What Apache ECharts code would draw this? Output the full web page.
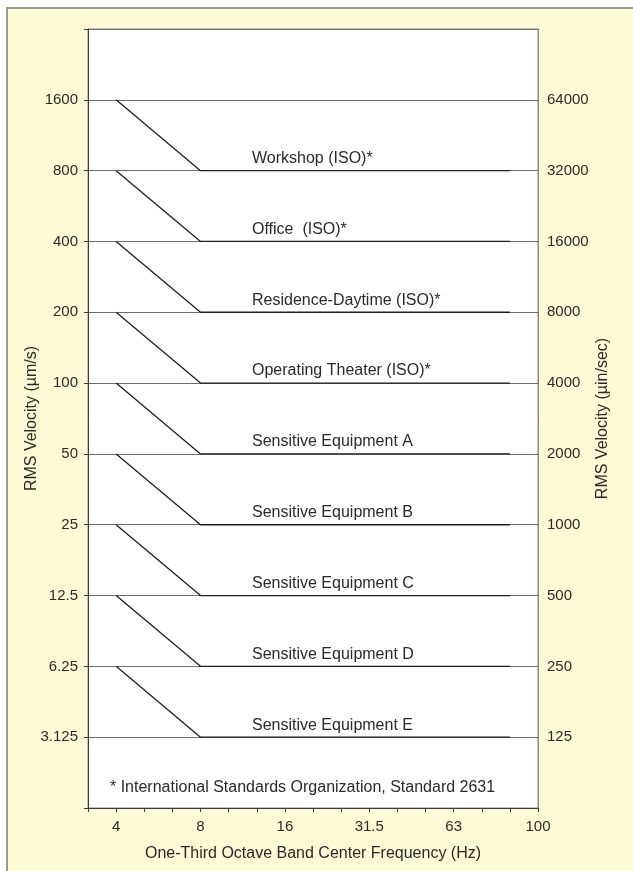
<!DOCTYPE html>
<html>
<head>
<meta charset="utf-8">
<script src="https://cdn.jsdelivr.net/npm/echarts@6/dist/echarts.min.js"></script>
<style>
  html, body { margin: 0; padding: 0; background: #ffffff; }
  #panel {
    position: absolute; left: 6px; top: 7px; width: 640px; height: 880px;
    background: #fffad6; border-left: 2px solid #9a9a94; border-top: 2px solid #9a9a94;
    box-sizing: border-box;
  }
  #chart { position: absolute; left: 0; top: 0; width: 633px; height: 871px; }
</style>
</head>
<body>
<div id="panel"></div>
<div id="chart"></div>
<script>
// One-third octave band positions along the x axis; only some are labelled.
const bandLabels = ['', '4', '', '', '8', '', '', '16', '', '', '31.5', '', '', '63', '', '', '100'];

// Vibration criterion curves: level at 4 Hz, then the flat level from 8 Hz upward (µm/s).
const criteriaNames = [
  'Workshop (ISO)*',
  'Office  (ISO)*',
  'Residence-Daytime (ISO)*',
  'Operating Theater (ISO)*',
  'Sensitive Equipment A',
  'Sensitive Equipment B',
  'Sensitive Equipment C',
  'Sensitive Equipment D',
  'Sensitive Equipment E'
];
const levelsAt4Hz = [1600, 800, 400, 200, 100, 50, 25, 12.5, 6.25];
const flatLevels  = [800, 400, 200, 100, 50, 25, 12.5, 6.25, 3.125];
// Band indices: curve start (4 Hz), knee (8 Hz) and end of the flat segment.
const curveBands = [1, 4, 15];

// Tick labels for the two velocity scales.
const leftTicks  = [3.125, 6.25, 12.5, 25, 50, 100, 200, 400, 800, 1600];
const leftTickMarks = [1.5625, 3.125, 6.25, 12.5, 25, 50, 100, 200, 400, 800, 1600, 3200];
const rightTicks = [125, 250, 500, 1000, 2000, 4000, 8000, 16000, 32000, 64000];

const footnote = '* International Standards Organization, Standard 2631';

const FONT = '"Liberation Sans", Arial, Helvetica, sans-serif';
const TEXT = '#2a2a2a';

function nearestLabel(list, v) {
  let best = list[0];
  for (const t of list) {
    if (Math.abs(Math.log(t) - Math.log(v)) < Math.abs(Math.log(best) - Math.log(v))) best = t;
  }
  return String(best);
}

const series = criteriaNames.map((name, i) => ({
  name: name,
  type: 'line',
  symbol: 'none',
  silent: true,
  z: 3,
  lineStyle: { color: '#1e1e1e', width: 1.3 },
  data: [
    [curveBands[0], levelsAt4Hz[i]],
    [curveBands[1], flatLevels[i]],
    [curveBands[2], flatLevels[i]]
  ],
  markPoint: {
    silent: true,
    symbol: 'circle',
    symbolSize: 1,
    itemStyle: { color: 'rgba(0,0,0,0)' },
    label: {
      show: true,
      position: 'right',
      distance: 0,
      offset: [51, -12],
      formatter: name,
      color: TEXT,
      fontFamily: FONT,
      fontSize: 16
    },
    data: [{ coord: [curveBands[1], flatLevels[i]] }]
  }
}));

const chart = echarts.init(document.getElementById('chart'), null, { renderer: 'canvas' });
chart.setOption({
  backgroundColor: 'transparent',
  animation: false,
  grid: {
    left: 88, top: 29, right: 95, bottom: 63,
    show: true, backgroundColor: '#ffffff', borderColor: '#8a8a8a', borderWidth: 1
  },
  xAxis: {
    type: 'value',
    min: 0, max: bandLabels.length - 1, interval: 1,
    name: 'One-Third Octave Band Center Frequency (Hz)',
    nameLocation: 'middle',
    nameGap: 38,
    nameMoveOverlap: false,
    nameTextStyle: { color: TEXT, fontFamily: FONT, fontSize: 16 },
    axisLine: { lineStyle: { color: '#3a3a3a', width: 1 } },
    axisTick: { show: true, length: 4, lineStyle: { color: '#3a3a3a' } },
    axisLabel: {
      color: TEXT, fontFamily: FONT, fontSize: 15, margin: 11,
      formatter: v => bandLabels[Math.round(v)] || ''
    },
    splitLine: { show: false }
  },
  yAxis: [
    {
      type: 'log', logBase: 2,
      min: 1.5625, max: 3200,
      position: 'left',
      name: 'RMS Velocity (\u00b5m/s)',
      nameLocation: 'middle',
      nameRotate: 90,
      nameGap: 48,
      nameMoveOverlap: false,
      nameTextStyle: { color: TEXT, fontFamily: FONT, fontSize: 16 },
      axisLine: { show: true, lineStyle: { color: '#3a3a3a', width: 1 } },
      axisTick: { show: true, length: 4, customValues: leftTickMarks, lineStyle: { color: '#3a3a3a' } },
      axisLabel: {
        customValues: leftTicks,
        color: TEXT, fontFamily: FONT, fontSize: 15, margin: 10,
        formatter: v => nearestLabel(leftTicks, v)
      },
      splitLine: { show: true, lineStyle: { color: '#6e6e6e', width: 1 } }
    },
    {
      type: 'log', logBase: 2,
      min: 62.5, max: 128000,
      position: 'right',
      name: 'RMS Velocity (\u00b5in/sec)',
      nameLocation: 'middle',
      nameRotate: 90,
      nameGap: 57,
      nameMoveOverlap: false,
      nameTextStyle: { color: TEXT, fontFamily: FONT, fontSize: 16 },
      axisLine: { show: true, lineStyle: { color: '#8a8a8a', width: 1 } },
      axisTick: { show: false },
      axisLabel: {
        customValues: rightTicks,
        color: TEXT, fontFamily: FONT, fontSize: 15, margin: 9,
        formatter: v => nearestLabel(rightTicks, v)
      },
      splitLine: { show: false }
    }
  ],
  graphic: [
    {
      type: 'text',
      left: 110, top: 780,
      z: 10,
      style: { text: footnote, fill: TEXT, font: '16px ' + FONT }
    }
  ],
  series: series
});
</script>
</body>
</html>
